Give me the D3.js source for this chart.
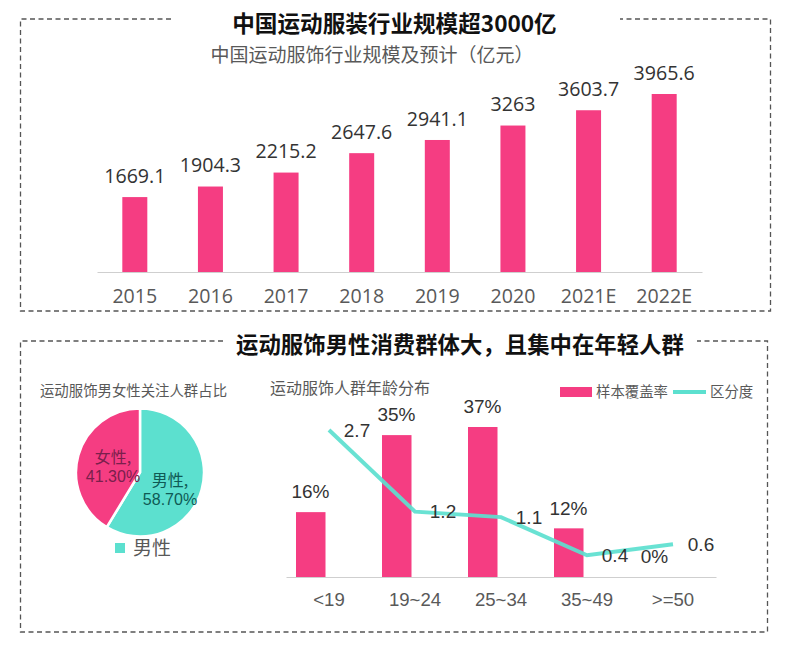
<!DOCTYPE html>
<html><head><meta charset="utf-8">
<script src="https://cdn.jsdelivr.net/npm/d3@7"></script>
<style>html,body{margin:0;padding:0;background:#fff}svg{display:block}
text{font-family:"Liberation Sans",Arial,sans-serif}
.cjk,.cjk text{font-family:"Noto Sans CJK SC",sans-serif}</style></head><body>
<svg id="c" width="800" height="651"></svg>
<script>
const years=["2015","2016","2017","2018","2019","2020","2021E","2022E"];
const marketSize=[1669.1,1904.3,2215.2,2647.6,2941.1,3263,3603.7,3965.6];
const ageGroups=["<19","19~24","25~34","35~49",">=50"];
const coverage=[16,35,37,12,0];
const distinction=[2.7,1.2,1.1,0.4,0.6];
const genderNames=["男性","女性"];
const genderShares=[58.7,41.3];
const PINK="#f53d82",TEAL="#5ce0cf",GREY="#595959";
const svg=d3.select("#c");

function frame(l,t,r,b,g1,g2){
  svg.append("path").attr("fill","none").attr("stroke","#555").attr("stroke-width",1.3)
    .attr("stroke-dasharray","5 3.5")
    .attr("d",`M${g1},${t}H${l}V${b}H${r}V${t}H${g2}`);
}
frame(20.5,19,770.5,311,171,620);
frame(20.5,341,767.5,632,223,697);

function txt(x,y,s,size,fill,o={}){
  return svg.append("text").attr("x",x).attr("y",y).attr("dy",".35em")
    .attr("text-anchor",o.anchor||"middle").attr("font-size",size).attr("fill",fill)
    .attr("font-weight",o.weight||400).attr("class",o.cjk===false?null:"cjk").text(s);
}
txt(394.5,24,"中国运动服装行业规模超3000亿",22.6,"#111",{weight:700});
txt(372,55,"中国运动服饰行业规模及预计（亿元）",19,GREY);
txt(460,345,"运动服饰男性消费群体大，且集中在年轻人群",22.4,"#111",{weight:700});
txt(133.5,391,"运动服饰男女性关注人群占比",14.4,GREY);
txt(350,388,"运动服饰人群年龄分布",16,GREY);

/* top bars */
const x1=d3.scaleBand().domain(years).range([97,702]);
const y1=d3.scaleLinear().domain([0,3965.6]).range([272,94]);
const g1=svg.append("g");
g1.selectAll("rect").data(years).join("rect")
  .attr("x",d=>x1(d)+x1.bandwidth()/2-12.5).attr("width",25)
  .attr("y",(d,i)=>y1(marketSize[i])).attr("height",(d,i)=>y1(0)-y1(marketSize[i]))
  .attr("fill",PINK);
g1.selectAll("text").data(years).join("text")
  .attr("x",d=>x1(d)+x1.bandwidth()/2).attr("y",(d,i)=>y1(marketSize[i])-21).attr("dy",".35em")
  .attr("text-anchor","middle").attr("font-size",19.6).attr("fill","#333")
  .style("font-family","'Open Sans'").text((d,i)=>marketSize[i]);
const ax1=svg.append("g").attr("transform","translate(0,272)")
  .call(d3.axisBottom(x1).tickSize(0).tickPadding(17));
ax1.select(".domain").attr("stroke","#cfcfcf").attr("stroke-width",1.2);
ax1.selectAll("text").attr("font-size",19.6).attr("fill",GREY).style("font-family","'Open Sans'");

/* pie */
const pieG=svg.append("g").attr("transform","translate(140,472.5)");
const pie=d3.pie().sort(null).value(d=>d);
const arc=d3.arc().innerRadius(0).outerRadius(64);
pieG.selectAll("path").data(pie(genderShares)).join("path")
  .attr("d",arc).attr("fill",(d,i)=>i?PINK:TEAL).attr("stroke","#fff").attr("stroke-width",2.5);
const pct=v=>v.toFixed(2)+"%";
[[30,8,26,"#0f5a55"],[-27,-15,2,"#7a1f4c"]].forEach(([dx,dy,dy2,c],i)=>{
  txt(140+dx,472.5+dy,genderNames[i]+",",16,c);
  txt(140+dx,472.5+dy+18.5,pct(genderShares[i]),16,c,{cjk:false});
});
svg.append("rect").attr("x",115).attr("y",543).attr("width",10).attr("height",10).attr("fill",TEAL);
txt(133,548,genderNames[0],19,GREY,{anchor:"start"});

/* lower combo */
const x2=d3.scaleBand().domain(ageGroups).range([286,716]);
const yBar=d3.scaleLinear().domain([0,37]).range([577,427]);
const yLine=d3.scaleLinear().domain([0,2.7]).range([577,430]);
const mid=d=>x2(d)+x2.bandwidth()/2;
const g2=svg.append("g");
g2.selectAll("rect").data(ageGroups).join("rect")
  .attr("x",d=>mid(d)-18.5-14.5).attr("width",29.5)
  .attr("y",(d,i)=>yBar(coverage[i])).attr("height",(d,i)=>yBar(0)-yBar(coverage[i]))
  .attr("fill",PINK);
const ax2=svg.append("g").attr("transform","translate(0,577)")
  .call(d3.axisBottom(x2).tickSize(0).tickPadding(16));
ax2.select(".domain").attr("stroke","#cfcfcf").attr("stroke-width",1.2);
ax2.selectAll("text").attr("font-size",18.6).attr("fill",GREY);
svg.append("path").attr("fill","none").attr("stroke",TEAL).attr("stroke-width",4).attr("stroke-opacity",.92)
  .attr("d",d3.line().x((d,i)=>mid(ageGroups[i])).y(d=>yLine(d))(distinction));
const lab=svg.append("g");
lab.selectAll(".b").data(ageGroups).join("text").attr("class","b")
  .attr("x",d=>mid(d)-18.5).attr("y",(d,i)=>yBar(coverage[i])-20.5).attr("dy",".35em")
  .attr("text-anchor","middle").attr("font-size",19).attr("fill","#333").text((d,i)=>coverage[i]+"%");
lab.selectAll(".l").data(ageGroups).join("text").attr("class","l")
  .attr("x",d=>mid(d)+28).attr("y",(d,i)=>yLine(distinction[i])).attr("dy",".35em")
  .attr("text-anchor","middle").attr("font-size",19).attr("fill","#333").text((d,i)=>distinction[i]);

/* legend */
svg.append("rect").attr("x",560).attr("y",387).attr("width",32).attr("height",10).attr("fill",PINK);
txt(596,392,"样本覆盖率",14.4,GREY,{anchor:"start"});
svg.append("line").attr("x1",673).attr("x2",706).attr("y1",392).attr("y2",392).attr("stroke",TEAL).attr("stroke-width",4);
txt(710,392,"区分度",14.4,GREY,{anchor:"start"});
</script></body></html>
